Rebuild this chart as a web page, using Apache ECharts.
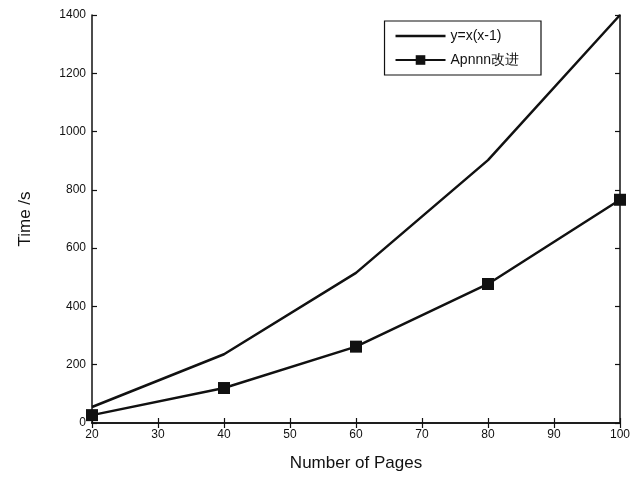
<!DOCTYPE html>
<html><head><meta charset="utf-8">
<script src="https://cdn.jsdelivr.net/npm/echarts@6/dist/echarts.min.js"></script>
<style>html,body{margin:0;padding:0;background:#fff}#c{width:643px;height:484px}</style>
</head><body><div id="c"></div>
<script>
var pages = [20, 40, 60, 80, 100];
var curveValues = [55, 236, 515, 902, 1400];
var apnnnValues = [27, 120, 262, 477, 766];
var seriesNames = ['y=x(x-1)', 'Apnnn改进'];
var xTitle = 'Number of Pages';
var yTitle = 'Time /s';

var font = '"Liberation Sans", Arial, sans-serif';
function pairs(xs, ys){ return xs.map(function(x,i){ return [x, ys[i]]; }); }
var chart = echarts.init(document.getElementById('c'));
var axisLine = {show:true, lineStyle:{color:'#111', width:1.5}};
var tick = {show:true, inside:true, length:5, lineStyle:{color:'#111', width:1.2}};
var lineIcon = 'path://M0,0L0.01,0ZM0,4.75H50V7.25H0ZM0,12L0.01,12Z';
chart.setOption({
  animation:false,
  backgroundColor:'#fff',
  grid:{left:92, right:23, top:15, bottom:61, containLabel:false},
  legend:{
    right:102, top:21, orient:'vertical', itemGap:10, itemWidth:50, itemHeight:12,
    padding:[8,22,8,10], borderColor:'#111', borderWidth:1.2, backgroundColor:'#fff',
    textStyle:{fontFamily:font, fontSize:14, color:'#111', fontWeight:'normal'},
    data:[{name:seriesNames[0], icon:lineIcon}, {name:seriesNames[1]}]
  },
  xAxis:[{
    type:'value', min:20, max:100, interval:10, position:'bottom',
    name:xTitle, nameLocation:'middle', nameGap:32,
    nameTextStyle:{fontFamily:font, fontSize:17, color:'#111'},
    axisLine:axisLine, axisTick:tick, splitLine:{show:false},
    axisLabel:{fontFamily:font, fontSize:12, color:'#111', margin:6}
  },{
    type:'value', min:20, max:100, interval:10, position:'top',
    axisLine:axisLine, axisTick:tick, splitLine:{show:false}, axisLabel:{show:false}
  }],
  yAxis:[{
    type:'value', min:0, max:1400, interval:200, position:'left',
    name:yTitle, nameLocation:'middle', nameGap:58,
    nameTextStyle:{fontFamily:font, fontSize:17, color:'#111'},
    axisLine:axisLine, axisTick:tick, splitLine:{show:false},
    axisLabel:{fontFamily:font, fontSize:12, color:'#111', margin:6,
      formatter:function(v){ return String(v); }}
  },{
    type:'value', min:0, max:1400, interval:200, position:'right',
    axisLine:axisLine, axisTick:tick, splitLine:{show:false}, axisLabel:{show:false}
  }],
  series:[{
    name:seriesNames[0], type:'line', data:pairs(pages, curveValues),
    symbol:'none', lineStyle:{color:'#111', width:2.5}, itemStyle:{color:'#111'}
  },{
    name:seriesNames[1], type:'line', data:pairs(pages, apnnnValues),
    symbol:'rect', symbolSize:12, lineStyle:{color:'#111', width:2.5}, itemStyle:{color:'#111'}
  }]
});
</script></body></html>
